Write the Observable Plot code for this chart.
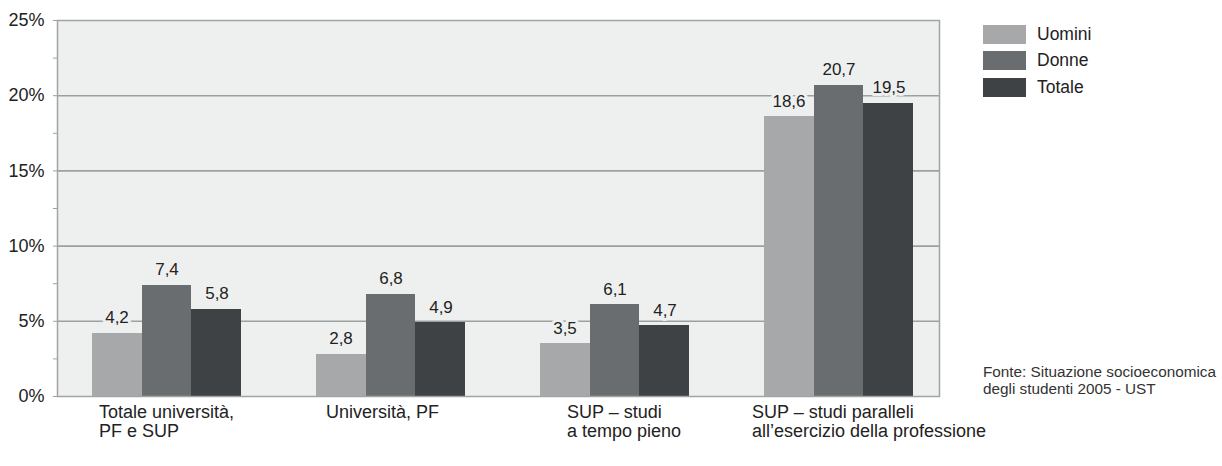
<!DOCTYPE html>
<html>
<head>
<meta charset="utf-8">
<script src="https://cdn.jsdelivr.net/npm/d3@7"></script>
<script src="https://cdn.jsdelivr.net/npm/@observablehq/plot@0.6"></script>
<style>
  html, body { margin: 0; padding: 0; background: #fff; }
  #wrap { position: relative; width: 1222px; height: 466px; font-family: "Liberation Sans", Arial, sans-serif; color: #222; }
  #chart svg { display: block; }
  .legend { position: absolute; left: 983px; top: 21px; }
  .legend .item { display: flex; align-items: center; height: 26.5px; font-size: 17.5px; }
  .legend .sw { width: 43px; height: 19px; margin-right: 11px; }
  .source { position: absolute; left: 983px; top: 363px; font-size: 15.3px; line-height: 17px; color: #333; }
</style>
</head>
<body>
<div id="wrap">
  <div id="chart"></div>
  <div class="legend" id="legend"></div>
  <div class="source">Fonte: Situazione socioeconomica<br>degli studenti 2005 - UST</div>
</div>
<script>
const categories = [
  "Totale università,\nPF e SUP",
  "Università, PF",
  "SUP – studi\na tempo pieno",
  "SUP – studi paralleli\nall’esercizio della professione"
];
const seriesNames = ["Uomini", "Donne", "Totale"];
const uomini = [4.2, 2.8, 3.5, 18.6];
const donne  = [7.4, 6.8, 6.1, 20.7];
const totale = [5.8, 4.9, 4.7, 19.5];
const yTicks = [0, 5, 10, 15, 20, 25];
const yMinorTicks = [0, 2.5, 5, 7.5, 10, 12.5, 15, 17.5, 20, 22.5, 25];
const colors = ["#a6a8aa", "#6a6d6f", "#3f4244"];

const seriesValues = [uomini, donne, totale];
const rows = [];
seriesNames.forEach((s, si) => categories.forEach((c, ci) => rows.push({category: c, series: s, value: seriesValues[si][ci]})));

const bg = "#eef0f0";
const grid = "#9ea0a0";
const fmt = d => d.toFixed(1).replace(".", ",");

// per-series inset/offset within the group band (band = 3 adjacent bars)
const barOpts = [
  {insetLeft: 0, insetRight: 99, dx: -50},
  {insetLeft: 50, insetRight: 50, dx: 0},
  {insetLeft: 99, insetRight: 0, dx: 50}
];
// horizontal offset of each category label block from the band centre
const labelDx = [-68, -65, -48, -87];

const marks = [
  Plot.frame({fill: bg}),
  Plot.ruleY([5, 10, 15, 20], {stroke: grid, strokeWidth: 1.6}),
  Plot.axisY({ticks: yMinorTicks, tickSize: 4, tickFormat: () => "", stroke: grid, label: null}),
  Plot.axisY({ticks: yTicks, tickSize: 0, tickPadding: 13, tickFormat: d => d + "%", fontSize: 18, fill: "#222", label: null}),
];
seriesNames.forEach((s, si) => {
  const data = rows.filter(r => r.series === s);
  marks.push(Plot.barY(data, {x: "category", y: "value", fill: "series", insetLeft: barOpts[si].insetLeft, insetRight: barOpts[si].insetRight, shapeRendering: "crispEdges"}));
});
seriesNames.forEach((s, si) => {
  const data = rows.filter(r => r.series === s);
  marks.push(Plot.text(data, {x: "category", y: "value", text: d => fmt(d.value), dx: barOpts[si].dx, dy: -10, lineAnchor: "bottom", fontSize: 17, fill: "#222", stroke: bg, strokeWidth: 6, paintOrder: "stroke"}));
});
categories.forEach((c, ci) => {
  marks.push(Plot.text([c], {x: d => d, text: d => d, frameAnchor: "bottom", textAnchor: "start", lineAnchor: "top", dx: labelDx[ci], dy: 7, fontSize: 18, lineHeight: 1.1, fill: "#222"}));
});
marks.push(Plot.frame({stroke: "#a2a4a4", strokeWidth: 1.5}));

const plot = Plot.plot({
  width: 1222,
  height: 466,
  marginLeft: 57,
  marginRight: 283,
  marginTop: 20,
  marginBottom: 70,
  style: {fontFamily: "'Liberation Sans', Arial, sans-serif", background: "#fff"},
  x: {domain: categories, paddingInner: 1/3, paddingOuter: 0.126667, align: 0.579, axis: null},
  y: {domain: [0, 25], axis: null},
  color: {domain: seriesNames, range: colors},
  marks
});
document.getElementById("chart").appendChild(plot);

const legend = document.getElementById("legend");
seriesNames.forEach((s, i) => {
  const it = document.createElement("div");
  it.className = "item";
  const sw = document.createElement("div");
  sw.className = "sw";
  sw.style.background = colors[i];
  const t = document.createElement("span");
  t.textContent = s;
  it.appendChild(sw); it.appendChild(t);
  legend.appendChild(it);
});
</script>
</body>
</html>
